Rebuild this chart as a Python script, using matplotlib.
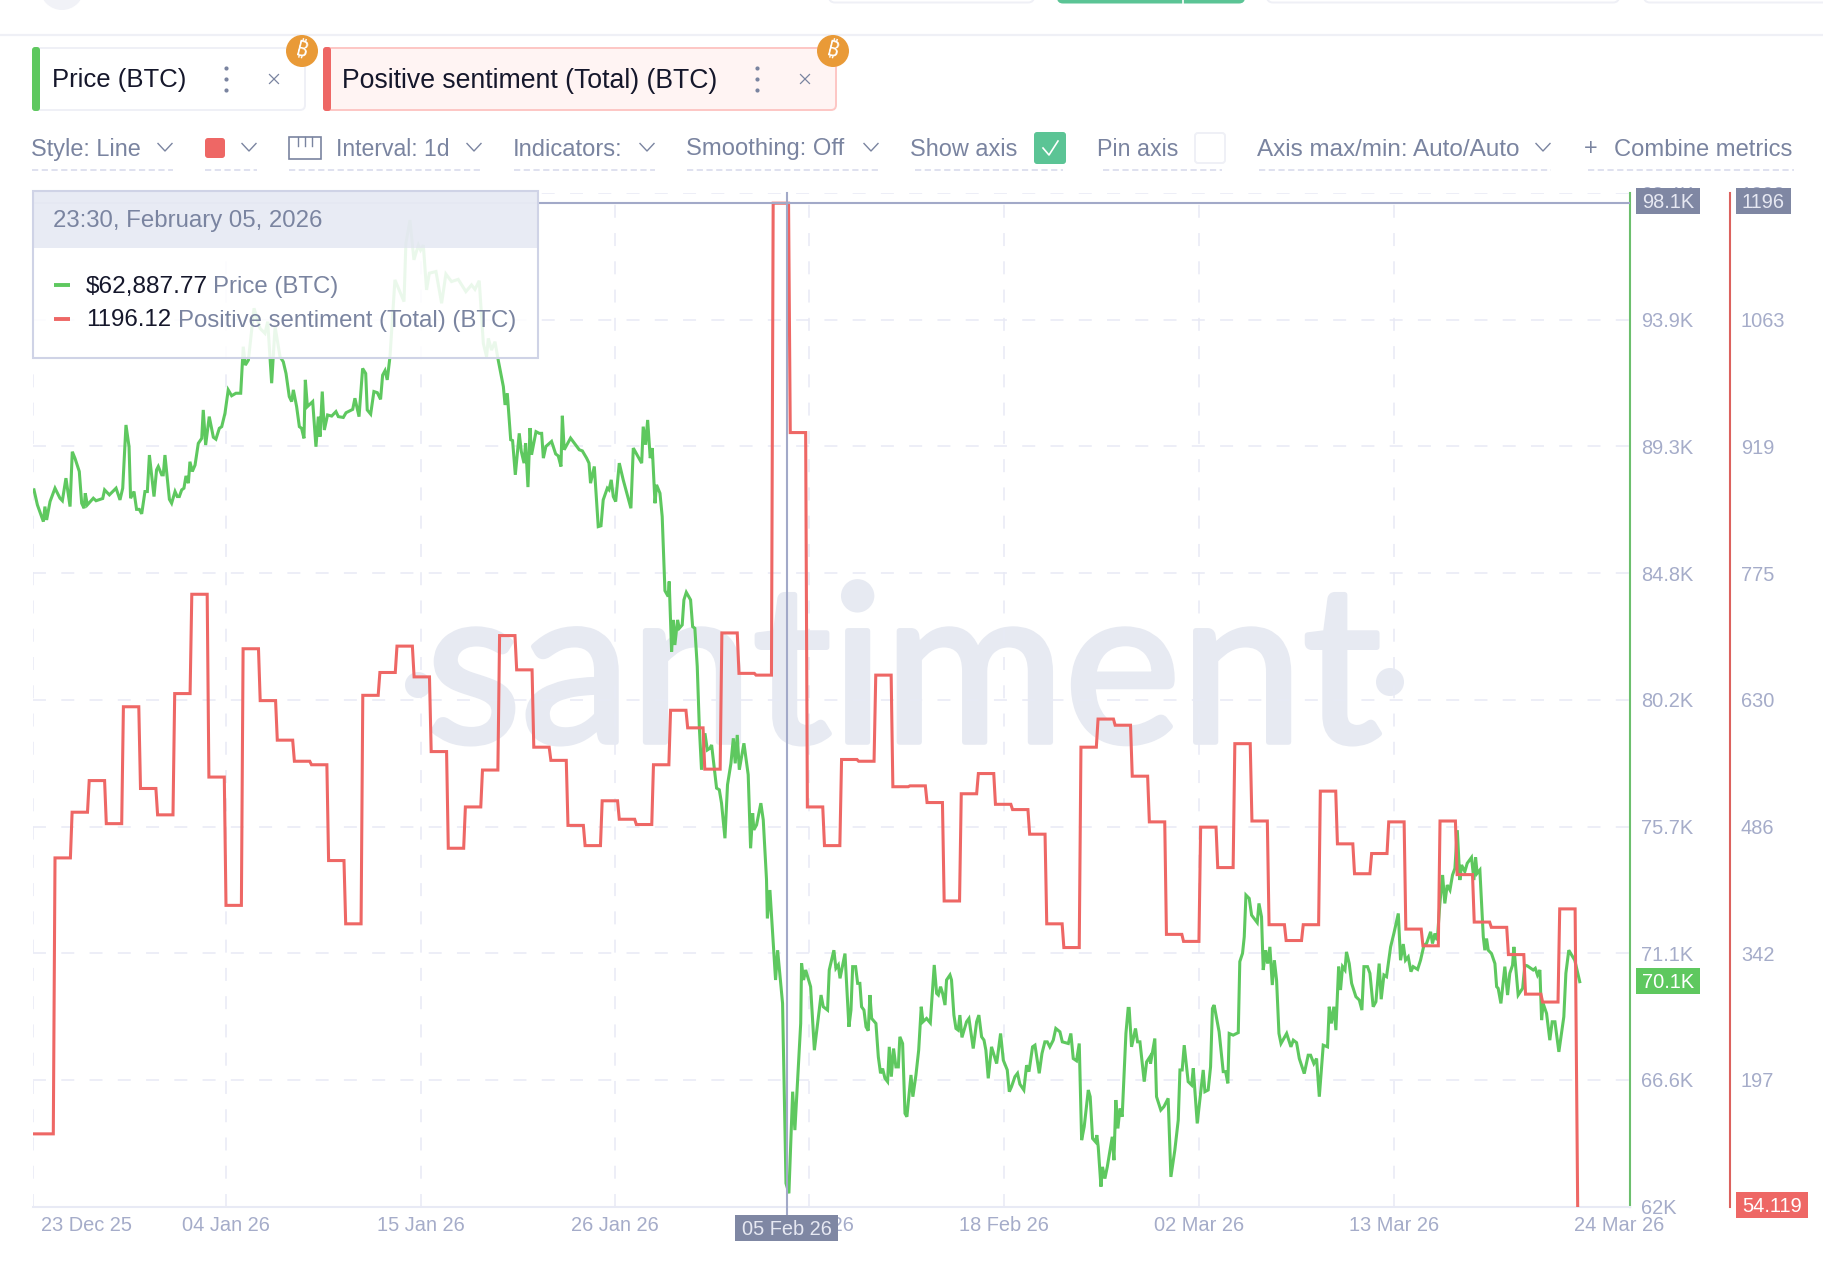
"""Santiment chart: BTC price and positive sentiment with the surrounding widget UI."""

import matplotlib
matplotlib.use("Agg")
import matplotlib.patheffects as path_effects
import matplotlib.pyplot as plt
from matplotlib.patches import Circle, FancyBboxPatch, Rectangle

plt.rcParams["font.family"] = ["Liberation Sans", "Noto Sans", "Roboto", "Open Sans", "Inter", "DejaVu Sans"]

W, H = 1824, 1266
PX = 0.72  # points per pixel at dpi 100

# Days are counted from 25 Dec 2025.
price_day = [
    -1.23, -1.03, -0.68, -0.59, -0.49, -0.29, 0.00, 0.29, 0.43, 0.64, 0.88, 1.01, 1.17, 1.42, 1.56, 1.70, 1.77, 1.89,
    2.24, 2.40, 2.79, 2.90, 3.18, 3.57, 3.80, 3.96, 4.15, 4.33, 4.42, 4.62, 4.77, 4.93, 5.07, 5.26, 5.40, 5.52, 5.79,
    5.94, 6.04, 6.24, 6.33, 6.43, 6.69, 6.82, 7.02, 7.15, 7.27, 7.41, 7.54, 7.66, 7.80, 7.89, 8.03, 8.19, 8.38, 8.58,
    8.67, 8.81, 9.02, 9.26, 9.41, 9.61, 9.75, 9.94, 10.13, 10.33, 10.58, 10.86,
    11.01, 11.13, 11.31, 11.64, 11.99, 12.28, 12.44, 12.67, 12.87, 13.16, 13.35, 13.51, 13.70, 13.84, 13.94, 14.13,
    14.29, 14.42, 14.56, 14.64, 14.76, 15.07, 15.26, 15.40, 15.50, 15.63, 15.75, 15.94, 16.18, 16.43, 16.57, 16.86,
    17.02, 17.41, 17.54, 17.78, 17.99, 18.17, 18.26, 18.46, 18.65, 18.85, 19.04, 19.16, 19.30, 19.43, 19.59, 19.88,
    20.41, 20.52, 20.76, 20.99, 21.25, 21.38, 21.54, 21.73, 21.89, 22.28, 22.61, 22.86, 23.19, 23.58, 24.03, 24.36,
    24.56, 24.81, 25.05, 25.24, 25.34, 25.53, 25.73, 25.92, 26.22,
    26.32, 26.45, 26.65, 26.76, 26.92, 27.15, 27.27, 27.43, 27.52, 27.66, 27.78, 27.87, 28.13, 28.32, 28.46, 28.56,
    28.71, 29.04, 29.28, 29.43, 29.59, 29.67, 29.78, 30.15, 30.66, 30.84, 31.09, 31.23, 31.32, 31.54, 31.77, 31.93,
    32.06, 32.30, 32.40, 32.53, 32.65, 32.79, 33.00, 33.23, 33.68, 33.82, 34.31, 34.40, 34.54, 34.66, 34.81, 34.93,
    35.09, 35.18, 35.38, 35.51, 35.67, 35.86, 35.92, 36.06, 36.16, 36.25, 36.41, 36.51, 36.68, 36.78, 36.92, 37.17,
    37.29, 37.42, 37.56, 37.68, 37.81, 38.01, 38.15, 38.30, 38.40, 38.69, 38.85, 38.98, 39.18, 39.33, 39.53, 39.67,
    39.78, 39.90, 40.02, 40.29, 40.54, 40.68, 40.80, 40.87, 41.03, 41.28, 41.42, 41.61,
    41.66, 41.81, 41.97, 42.14, 42.26, 42.55, 42.75, 42.92, 43.14, 43.27, 43.61, 43.66, 43.78, 43.90, 44.19, 44.41,
    44.80, 44.93, 45.18, 45.28, 45.55, 45.67, 45.81, 45.91, 46.20, 46.43, 46.55, 46.65, 46.82, 46.94, 47.07, 47.17,
    47.31, 47.43, 47.56, 47.66, 47.76, 48.01, 48.15, 48.28, 48.40, 48.54, 48.69, 48.79, 48.91, 49.04, 49.18, 49.32,
    49.41, 49.57, 49.71, 49.82, 50.06, 50.17, 50.35, 50.51, 50.66, 50.76, 50.97, 51.19, 51.42, 51.56, 51.66, 51.79,
    51.91, 52.05, 52.14, 52.34, 52.43, 52.57, 52.69, 52.82, 52.92, 53.04, 53.31, 53.45, 53.70, 53.90, 54.03, 54.19,
    54.33, 54.44, 54.58, 54.77, 55.07, 55.30, 55.46, 55.69, 55.81, 55.94, 56.14, 56.29, 56.43, 56.66, 56.82, 56.96,
    57.17, 57.31, 57.56, 57.72, 57.89, 58.03, 58.18, 58.38, 58.53, 58.77, 58.91, 59.26, 59.41, 59.55, 59.74, 59.90,
    60.04, 60.19, 60.43, 60.54, 60.68, 60.85, 60.93, 61.01, 61.17, 61.26, 61.40, 61.54, 61.83, 61.93, 62.04, 62.16,
    62.28, 62.41, 62.63, 62.76, 62.82, 62.96, 63.19, 63.31, 63.45, 63.70, 63.84, 64.03, 64.07, 64.32, 64.42, 64.67,
    64.85, 65.10, 65.26, 65.49, 65.69, 65.79, 65.92, 66.04, 66.27, 66.47, 66.57, 66.80, 67.15, 67.25, 67.44, 67.58,
    67.69, 67.79, 68.08, 68.32, 68.46, 68.59, 68.67, 68.90, 69.20, 69.29, 69.45, 69.55,
    69.65, 69.84, 69.98, 70.31, 70.41, 70.56, 70.66, 70.80, 70.92, 71.05, 71.19, 71.31, 71.44, 71.58, 71.70, 72.03,
    72.28, 72.42, 72.61, 72.77, 73.06, 73.29, 73.43, 73.62, 73.78, 73.94, 74.17, 74.42, 74.52, 74.64, 74.79, 74.91,
    75.07, 75.18, 75.30, 75.44, 75.53, 75.69, 75.83, 76.08, 76.28, 76.43, 76.55, 76.76, 76.90, 77.09, 77.25, 77.44,
    77.56, 77.72, 77.87, 78.11, 78.30, 78.56, 78.69, 78.85, 78.98, 79.14, 79.30, 79.43, 79.69, 79.86, 80.06, 80.21,
    80.45, 80.56, 80.70, 80.84, 80.99, 81.15, 81.28, 81.42, 81.58, 81.73, 81.87, 82.01, 82.16, 82.26, 82.45, 82.59,
    82.84, 82.98, 83.08, 83.17, 83.33, 83.53, 83.62, 83.72, 83.82, 84.01, 84.21, 84.31, 84.40, 84.56, 84.79, 84.95,
    85.08, 85.24, 85.32, 85.57, 85.83, 85.96, 86.10, 86.45, 86.57, 86.70, 86.84, 86.94, 87.03, 87.23, 87.42, 87.56,
    87.72, 87.95, 88.24, 88.36, 88.53, 88.88, 89.17,
]
price_k = [
    87.74, 87.20, 86.60, 87.14, 86.66, 87.32, 87.80, 87.44, 87.35, 88.16, 87.14, 89.11, 88.87, 88.40, 87.26, 87.08, 87.62, 87.20,
    87.44, 87.35, 87.43, 87.74, 87.56, 87.80, 87.38, 87.80, 90.07, 89.29, 87.44, 87.68, 87.04, 87.04, 86.88, 87.68, 87.68, 88.99, 87.50,
    88.46, 88.58, 88.28, 88.28, 88.99, 87.40, 87.26, 87.68, 87.50, 87.50, 87.74, 87.80, 88.24, 87.98, 88.75, 88.40, 88.63, 89.41, 89.59,
    90.61, 89.35, 90.37, 89.63, 89.56, 89.95, 90.01, 90.49, 91.33, 91.12, 91.21, 91.21,
    92.88, 92.22, 92.40, 94.26, 93.54, 93.36, 93.78, 91.57, 93.60, 92.52, 92.34, 91.92, 91.09, 90.91, 91.33, 90.73,
    90.01, 89.95, 89.59, 91.69, 90.73, 90.91, 89.29, 90.37, 89.65, 91.27, 89.89, 90.43, 90.39, 90.55, 90.37, 90.34,
    90.51, 90.63, 91.03, 90.37, 92.10, 91.92, 90.61, 90.46, 91.27, 91.23, 90.99, 91.86, 92.02, 91.69, 92.52, 95.28,
    94.50, 96.59, 97.43, 96.00, 96.53, 96.35, 96.53, 94.92, 95.52, 95.58, 94.44, 95.49, 95.22, 95.30, 94.86, 95.10,
    94.94, 95.25, 93.00, 92.52, 93.18, 92.76, 93.06, 92.40, 91.45,
    90.79, 91.21, 89.54, 89.51, 88.28, 89.77, 89.12, 88.70, 89.42, 87.84, 89.96, 89.00, 89.83, 89.77, 89.77, 88.88,
    89.30, 89.48, 89.03, 88.96, 88.58, 90.40, 89.18, 89.60, 89.18, 89.14, 88.88, 88.70, 87.98, 88.58, 86.42, 86.45,
    87.38, 87.80, 87.74, 88.10, 87.50, 87.32, 88.70, 88.10, 87.08, 89.24, 88.70, 90.01, 89.36, 90.25, 88.88, 89.24,
    87.26, 87.92, 87.62, 86.78, 84.12, 83.91, 84.45, 81.93, 83.07, 82.17, 83.07, 82.77, 82.89, 83.79, 84.06, 83.79,
    82.83, 82.77, 81.40, 79.24, 77.69, 79.00, 78.40, 78.46, 78.58, 77.03, 76.97, 76.49, 75.23, 77.15, 77.92, 78.82,
    77.92, 78.94, 77.69, 78.64, 77.51, 74.87, 76.13, 75.53, 75.71, 76.49, 75.89, 73.75,
    72.35, 73.37, 71.81, 70.14, 71.21, 69.30, 62.84, 62.48, 66.13, 64.75, 68.58, 70.74, 70.14, 70.50, 69.90, 67.62,
    69.60, 69.18, 69.06, 70.50, 71.21, 70.56, 70.68, 70.20, 71.09, 68.46, 69.06, 70.62, 70.62, 70.02, 70.02, 69.18,
    69.06, 68.46, 68.32, 69.60, 68.76, 68.58, 67.38, 66.79, 66.96, 66.61, 66.49, 67.74, 66.67, 67.68, 67.02, 67.02,
    68.10, 67.86, 65.35, 65.23, 66.73, 65.95, 66.73, 67.62, 69.18, 68.64, 68.76, 68.60, 70.68, 69.66, 69.60, 69.90,
    69.66, 69.24, 70.14, 70.32, 70.14, 68.88, 68.40, 68.34, 68.88, 68.08, 68.64, 68.76, 67.68, 68.64, 68.88, 68.10,
    67.98, 67.62, 66.61, 67.74, 67.14, 68.22, 67.26, 66.91, 66.13, 66.31, 66.67, 66.79, 66.40, 66.19, 67.08, 66.85,
    67.74, 67.80, 66.79, 67.50, 67.92, 67.92, 67.74, 67.98, 68.40, 68.28, 67.92, 67.86, 68.22, 67.32, 67.24, 67.86,
    64.39, 64.87, 66.19, 65.95, 64.45, 64.33, 64.57, 64.15, 62.72, 63.43, 63.01, 63.43, 64.51, 63.67, 65.83, 64.81,
    65.53, 65.23, 68.22, 69.12, 69.12, 67.74, 68.40, 67.92, 67.92, 66.49, 67.20, 67.38, 67.14, 68.04, 65.95, 65.47,
    65.59, 65.89, 63.07, 64.03, 65.11, 66.91, 66.91, 67.80, 66.49, 66.37, 66.97, 64.99, 66.91, 66.13, 66.19, 67.02,
    69.12, 69.24, 68.28, 66.85, 66.85, 66.43, 68.22, 68.16, 68.25, 70.80, 71.10, 71.69,
    73.19, 73.07, 72.47, 72.20, 72.89, 72.41, 70.50, 71.21, 70.73, 71.33, 69.96, 70.85, 70.14, 68.22, 67.86, 68.22,
    67.74, 67.98, 67.89, 67.32, 66.78, 67.44, 67.44, 67.14, 67.32, 65.95, 67.80, 67.74, 69.18, 68.58, 69.18, 68.34,
    70.62, 69.78, 70.62, 70.50, 71.15, 70.73, 70.02, 69.54, 69.42, 69.06, 70.62, 70.62, 70.38, 69.18, 69.36, 70.73,
    69.45, 70.32, 70.26, 71.33, 71.81, 72.53, 70.85, 71.43, 70.85, 70.97, 70.44, 70.62, 70.52, 70.85, 71.39, 71.45,
    71.87, 71.45, 71.81, 71.57, 72.89, 73.91, 72.89, 73.55, 73.37, 73.91, 74.15, 75.52, 73.73, 74.27, 74.03, 74.33,
    74.54, 73.73, 74.54, 73.97, 74.09, 71.69, 71.21, 71.63, 71.21, 71.09, 70.73, 69.90, 69.84, 69.30, 70.62, 69.60,
    70.38, 70.67, 71.33, 69.60, 69.84, 70.67, 70.65, 70.50, 70.56, 70.32, 70.50, 68.70, 69.30, 68.94, 67.98, 68.64,
    68.64, 67.56, 68.82, 70.38, 71.21, 70.85, 70.08,
]

# One value per day, first entry is 23 Dec 2025.
sentiment_first_day = -2
sentiment_daily = [
    137, 137, 451, 503, 539, 490, 623, 530, 500, 638, 751, 543, 397, 689, 630, 585, 561, 557, 448, 376,
    636, 662, 692, 657, 572, 462, 509, 551, 704, 665, 577, 562, 488, 465, 516, 495, 489, 557, 619, 599,
    552, 707, 661, 659, 1196, 935, 509, 465, 563, 561, 659, 532, 533, 514, 402, 524, 547, 512, 506, 478,
    376, 349, 577, 609, 602, 544, 492, 364, 356, 486, 440, 581, 493, 375, 357, 375, 527, 467, 433, 456,
    492, 370, 351, 493, 432, 378, 372, 341, 296, 287, 393,
]
sentiment_last_day = 89.05
sentiment_last = 54.119

x_tick_days = [-1.287, 10.0, 21.4, 32.75, 44.12, 55.5, 66.9, 78.3]
x_tick_labels = ["", "04 Jan 26", "15 Jan 26", "26 Jan 26", "07 Feb 26", "18 Feb 26", "02 Mar 26", "13 Mar 26"]
x_edge_days = [1.87, 91.5]
x_edge_labels = ["23 Dec 25", "24 Mar 26"]

price_ticks = [62, 66.55, 71.1, 75.65, 80.2, 84.75, 89.3, 93.85, 98.4]
price_labels = ["62K", "66.6K", "71.1K", "75.7K", "80.2K", "84.8K", "89.3K", "93.9K", "98.4K"]
sentiment_ticks = [198.3, 342.5, 486.7, 630.9, 775.1, 919.3, 1063.5, 1207.6]
sentiment_labels = ["197", "342", "486", "630", "775", "919", "1063", "1208"]

crosshair_day = 42.79
crosshair_sentiment = 1196

GREEN = "#5ec85f"
RED = "#ee6765"
GRID = "#e8eaf5"
AXIS_TEXT = "#a5acc9"
UI_TEXT = "#7a84a0"
DARK = "#15172b"
BADGE = "#7f87a3"
CROSS = "#a2a9c8"
DASH_UI = "#dfe1ef"
WATERMARK = "#e7eaf2"


def sentiment_path():
    """Turn daily sentiment values into the stepped line the chart draws."""
    xs, ys = [], []
    for i, value in enumerate(sentiment_daily):
        day = sentiment_first_day + i
        xs += [day, day + 0.9]
        ys += [value, value]
    xs.append(sentiment_last_day)
    ys.append(sentiment_last)
    return xs, ys


def box(ax, x0, y0, x1, y1, face, edge="none", lw=0.0, radius=0.0, zorder=2, alpha=None):
    """Draw a (rounded) rectangle in pixel coordinates."""
    style = f"round,pad=0,rounding_size={radius}" if radius else "square,pad=0"
    patch = FancyBboxPatch((x0, y0), x1 - x0, y1 - y0, boxstyle=style, facecolor=face,
                           edgecolor=edge, linewidth=lw, zorder=zorder, alpha=alpha)
    ax.add_patch(patch)


def label(ax, x, y, text, px, color=UI_TEXT, ha="left", zorder=6, **kwargs):
    """Put text at pixel coordinates with the size given in pixels."""
    ax.text(x, y - 1, text, fontsize=px * PX, color=color, ha=ha, va="center_baseline", zorder=zorder, **kwargs)


def chevron(ax, x, y=147):
    ax.plot([x - 7, x, x + 7], [y - 3.5, y + 4, y - 3.5], color=UI_TEXT, lw=1.0, zorder=6)


def underline(ax, x0, x1, y=170):
    ax.plot([x0, x1], [y, y], color=DASH_UI, lw=1.4, linestyle=(0, (3.2, 1.8)), zorder=6)


def bitcoin_badge(ax, x, y):
    ax.add_patch(Circle((x, y), 16, facecolor="#e99a37", edgecolor="none", zorder=7))
    ax.text(x, y + 0.5, "₿", fontsize=15, color="white", ha="center", va="center", rotation=-14,
            family=["Noto Sans", "Roboto", "Inter", "Open Sans", "Lato", "DejaVu Sans"], zorder=8)


def draw_background(fig):
    """Watermark behind the chart."""
    bg = fig.add_axes([0, 0, 1, 1], zorder=0)
    bg.set_xlim(0, W)
    bg.set_ylim(H, 0)
    bg.axis("off")
    mark = bg.text(904, 742, "santiment", fontsize=158, family=["Lato", "Open Sans"], color=WATERMARK,
                   ha="center", va="baseline")
    mark.set_path_effects([path_effects.withStroke(linewidth=4, foreground=WATERMARK)])
    bg.add_patch(Circle((418, 685), 13, facecolor=WATERMARK, edgecolor="none"))
    bg.add_patch(Circle((1390, 682), 14, facecolor=WATERMARK, edgecolor="none"))


def draw_chart(fig):
    """Main plot area with both series and their axes."""
    left, right, top, bottom = 33, 1630, 193, 1206.7
    ax = fig.add_axes([left / W, 1 - bottom / H, (right - left) / W, (bottom - top) / H], zorder=1)
    ax.patch.set_alpha(0)
    ax.set_xlim(-1.287, 92.11)
    ax.set_ylim(62, 98.4)

    ax2 = ax.twinx()  # twinx moves the first axis' ticks back to the left, set them afterwards
    ax.yaxis.tick_right()
    ax.set_yticks(price_ticks, price_labels, va="center_baseline")
    ax.set_xticks(x_tick_days, x_tick_labels)
    ax.set_xticks(x_edge_days, x_edge_labels, minor=True)
    ax.tick_params(axis="y", length=0, pad=7.8, labelsize=14.4, labelcolor=AXIS_TEXT)
    ax.tick_params(axis="x", which="both", length=0, pad=7.0, labelsize=14.4, labelcolor=AXIS_TEXT)
    ax.grid(True, which="major", color=GRID, linewidth=1.1, linestyle=(0, (8.5, 10)))
    ax.set_axisbelow(True)
    for side in ("top", "left"):
        ax.spines[side].set_visible(False)
    ax.spines["bottom"].set_color(GRID)
    ax.spines["bottom"].set_linewidth(1.5)
    ax.spines["right"].set_color("#6cbf6d")
    ax.spines["right"].set_linewidth(1.5)
    ax.plot(price_day, price_k, color=GREEN, lw=2.2, solid_joinstyle="miter", zorder=3)

    ax2.patch.set_alpha(0)
    ax2.set_ylim(54.119, 1207.6)
    ax2.set_yticks(sentiment_ticks, sentiment_labels, va="center_baseline")
    ax2.tick_params(axis="y", length=0, pad=7.8, labelsize=14.4, labelcolor=AXIS_TEXT)
    for side in ("top", "left", "bottom"):
        ax2.spines[side].set_visible(False)
    ax2.spines["right"].set_position(("outward", 72))
    ax2.spines["right"].set_color("#dc625e")
    ax2.spines["right"].set_linewidth(1.5)
    xs, ys = sentiment_path()
    ax2.plot(xs, ys, color=RED, lw=2.2, solid_joinstyle="miter", zorder=3)
    ax2.axvline(crosshair_day, ymin=-0.009, ymax=1, color=CROSS, lw=1.5, clip_on=False, zorder=4)
    ax2.axhline(crosshair_sentiment, color=CROSS, lw=1.5, zorder=4)


def draw_ui(fig):
    """Tabs, toolbar, tooltip and value badges, laid out in pixels."""
    ui = fig.add_axes([0, 0, 1, 1], zorder=5)
    ui.set_xlim(0, W)
    ui.set_ylim(H, 0)
    ui.axis("off")
    ui.patch.set_alpha(0)

    # remains of the top bar
    ui.plot([0, W], [34.7, 34.7], color="#eff0f6", lw=1.6)
    ui.add_patch(Circle((62, -12), 22, facecolor="#f1f2f7", edgecolor="none"))
    box(ui, 1057, -20, 1245, 3.5, "#5bc495", radius=6)
    ui.plot([1183, 1183], [0, 4], color="white", lw=1.2, zorder=3)
    for x0, x1 in ((829, 1034), (1267, 1619), (1644, 1860)):
        box(ui, x0, -20, x1, 2.5, "white", edge="#eff0f6", lw=1.4, radius=6)

    # tabs
    box(ui, 33, 48, 305, 110, "white", edge="#eff0f6", lw=1.4, radius=5)
    box(ui, 32, 47, 40, 111, GREEN, radius=3, zorder=3)
    label(ui, 52, 79, "Price (BTC)", 25.7, DARK)
    box(ui, 324, 48, 836, 110, "#fff4f3", edge="#fdc6c4", lw=1.4, radius=5)
    box(ui, 323, 47, 331, 111, RED, radius=3, zorder=3)
    label(ui, 342, 79, "Positive sentiment (Total) (BTC)", 26.6, DARK)
    for x in (226, 757):
        ui.scatter([x, x, x], [68, 79, 90], s=9, color=UI_TEXT, zorder=6, linewidths=0)
    for x in (274, 805):
        ui.plot([x - 4.5, x + 4.5], [74.5, 83.5], color=UI_TEXT, lw=0.9, zorder=6)
        ui.plot([x - 4.5, x + 4.5], [83.5, 74.5], color=UI_TEXT, lw=0.9, zorder=6)
    bitcoin_badge(ui, 302, 51)
    bitcoin_badge(ui, 833, 51)

    # toolbar
    label(ui, 31, 148, "Style: Line", 23.5)
    chevron(ui, 165)
    underline(ui, 32, 173)
    box(ui, 205, 138, 225, 158, RED, radius=3)
    chevron(ui, 249)
    underline(ui, 205, 257)
    ui.add_patch(Rectangle((289, 137), 32, 22, facecolor="white", edgecolor=UI_TEXT, lw=1.2, zorder=5))
    for x in (298, 305, 312):
        ui.plot([x, x], [137, 146], color=UI_TEXT, lw=1.0, zorder=6)
    label(ui, 336, 148, "Interval: 1d", 23)
    chevron(ui, 474)
    underline(ui, 289, 482)
    label(ui, 513, 148, "Indicators:", 23.8)
    chevron(ui, 647)
    underline(ui, 514, 655)
    label(ui, 686, 148, "Smoothing: Off", 23.8)
    chevron(ui, 871)
    underline(ui, 687, 879)
    label(ui, 910, 148, "Show axis", 23.5)
    box(ui, 1034, 132, 1066, 164, "#5bc495", radius=3)
    ui.plot([1043, 1049, 1058], [148, 155, 141], color="white", lw=1.2, zorder=6)
    underline(ui, 915, 1063)
    label(ui, 1097, 148, "Pin axis", 23.2)
    box(ui, 1195, 133, 1225, 163, "white", edge="#eff0f6", lw=1.4, radius=3)
    underline(ui, 1103, 1222)
    label(ui, 1257, 148, "Axis max/min: Auto/Auto", 24.2)
    chevron(ui, 1543)
    underline(ui, 1259, 1551)
    label(ui, 1591, 147, "+", 23.5, ha="center")
    label(ui, 1614, 148, "Combine metrics", 23.8)
    underline(ui, 1588, 1794)

    # tooltip
    box(ui, 33, 248, 538, 358, "white", alpha=0.88, zorder=4)
    box(ui, 33, 191, 538, 248, "#e8ebf4", alpha=0.97, zorder=4)
    ui.add_patch(Rectangle((33, 191), 505, 167, facecolor="none", edgecolor="#cfd3e6", lw=1.5, zorder=5))
    label(ui, 53, 219, "23:30, February 05, 2026", 24)
    ui.plot([54, 70], [285, 285], color=GREEN, lw=2.8, solid_capstyle="butt", zorder=6)
    label(ui, 86, 285, "$62,887.77", 24.4, DARK)
    label(ui, 213, 285, "Price (BTC)", 24)
    ui.plot([54, 70], [319, 319], color=RED, lw=2.8, solid_capstyle="butt", zorder=6)
    label(ui, 86, 319, "1196.12", 24, DARK)
    label(ui, 178, 319, "Positive sentiment (Total) (BTC)", 24)

    # value badges
    badges = [
        (1636, 1700, 188, 214, BADGE, "98.1K", "#e6e8f2"),
        (1736, 1791, 188, 214, BADGE, "1196", "#e6e8f2"),
        (1636, 1700, 968, 994, GREEN, "70.1K", "white"),
        (1736, 1808, 1192, 1218, RED, "54.119", "white"),
        (735, 838, 1215, 1241, BADGE, "05 Feb 26", "#e6e8f2"),
    ]
    for x0, x1, y0, y1, face, text, color in badges:
        box(ui, x0, y0, x1, y1, face, zorder=5)
        label(ui, (x0 + x1) / 2, (y0 + y1) / 2 + 0.5, text, 20, color, ha="center")


def main():
    fig = plt.figure(figsize=(W / 100, H / 100), dpi=100, facecolor="white")
    draw_background(fig)
    draw_chart(fig)
    draw_ui(fig)
    fig.savefig("out.png", dpi=100, facecolor="white")
    plt.close(fig)


if __name__ == "__main__":
    main()
